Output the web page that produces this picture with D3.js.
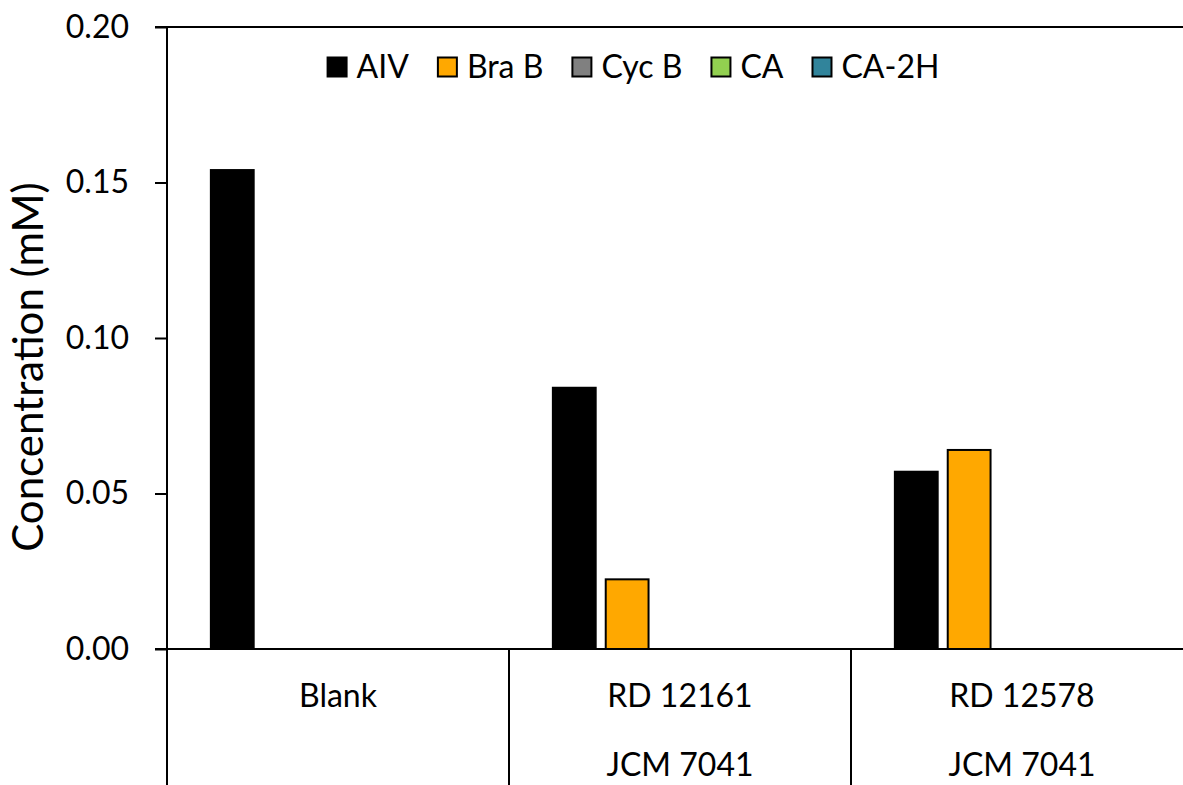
<!DOCTYPE html>
<html>
<head>
<meta charset="utf-8">
<script src="https://cdn.jsdelivr.net/npm/d3@7"></script>
<style>
  html, body { margin: 0; padding: 0; background: #fff; overflow: hidden; }
  svg { display: block; font-family: Lato, "Open Sans", sans-serif; }
</style>
</head>
<body>
<svg id="chart" width="1183" height="785"></svg>
<script>
// Strain treatments along the category axis (two label rows)
const categories = ["Blank", "RD 12161", "RD 12578"];
const subLabels = ["", "JCM 7041", "JCM 7041"];

// Compound series (mM)
const seriesNames = ["AIV", "Bra B", "Cyc B", "CA", "CA-2H"];
const aiv  = [0.154, 0.084, 0.057];
const braB = [0.000, 0.0224, 0.064];
const cycB = [0, 0, 0];
const ca   = [0, 0, 0];
const ca2h = [0, 0, 0];
const seriesColors = ["#000000", "#FFA800", "#808080", "#92D050", "#31849B"];

const yTicks = [0, 0.05, 0.10, 0.15, 0.20];

const seriesValues = [aiv, braB, cycB, ca, ca2h];
const series = seriesNames.map((name, i) => ({
  name, color: seriesColors[i],
  values: categories.map((c, j) => ({ cat: c, v: seriesValues[i][j] }))
}));

const svg = d3.select("#chart");
const W = 1183, H = 785;
const plot = { left: 167, top: 27, bottom: 649, right: 1193 };

const x = d3.scaleBand().domain(categories).range([plot.left, plot.right]).padding(0);
const xs = d3.scaleBand().domain(seriesNames).range([0, x.bandwidth()])
  .paddingInner(0.19).paddingOuter(0.83);
const y = d3.scaleLinear().domain([0, 0.2]).range([plot.bottom, plot.top]);

// Bars
const g = svg.append("g");
series.forEach(s => {
  g.selectAll(null).data(s.values).enter().append("rect")
    .attr("x", d => x(d.cat) + xs(s.name))
    .attr("y", d => y(d.v))
    .attr("width", xs.bandwidth())
    .attr("height", d => y(0) - y(d.v))
    .attr("fill", s.color)
    .attr("stroke", "#000")
    .attr("stroke-width", 2);
});

// Y axis
const yAxis = d3.axisLeft(y).tickValues(yTicks).tickFormat(d3.format(".2f"))
  .tickSizeInner(12).tickSizeOuter(0).tickPadding(26);
const ya = svg.append("g").attr("transform", `translate(${plot.left},0)`).call(yAxis);
ya.select(".domain").remove();
ya.selectAll(".tick line").attr("stroke", "#000").attr("stroke-width", 2);
ya.selectAll(".tick text").attr("font-size", 32).attr("fill", "#000")
  .attr("font-family", "Lato, sans-serif");

// Left axis line running down through the label area
svg.append("line").attr("x1", plot.left).attr("x2", plot.left)
  .attr("y1", plot.top - 1).attr("y2", H)
  .attr("stroke", "#000").attr("stroke-width", 2);

// Top border and category axis line
[plot.top, plot.bottom].forEach(yy => {
  svg.append("line").attr("x1", plot.left - 12).attr("x2", W)
    .attr("y1", yy).attr("y2", yy)
    .attr("stroke", "#000").attr("stroke-width", 2);
});

// Category dividers
categories.slice(1).forEach(c => {
  svg.append("line").attr("x1", x(c)).attr("x2", x(c))
    .attr("y1", plot.bottom).attr("y2", H)
    .attr("stroke", "#000").attr("stroke-width", 2);
});

// Category labels
const lab = svg.append("g").attr("font-size", 32).attr("text-anchor", "middle").attr("fill", "#000");
categories.forEach((c, i) => {
  const cx = x(c) + x.bandwidth() / 2;
  lab.append("text").attr("x", cx).attr("y", 707).text(c);
  if (subLabels[i]) lab.append("text").attr("x", cx).attr("y", 776).text(subLabels[i]);
});

// Y axis title
svg.append("text")
  .attr("transform", `translate(43,367) rotate(-90)`)
  .attr("text-anchor", "middle").attr("font-size", 42).attr("fill", "#000")
  .text("Concentration (mM)");

// Legend laid out in one row, centred over the plot
const legend = svg.append("g").attr("font-size", 32).attr("fill", "#000");
const sw = 19, gapText = 10, gapItem = 29;
let cursor = 0;
series.forEach(s => {
  const it = legend.append("g");
  it.append("rect").attr("x", 0).attr("y", -sw / 2).attr("width", sw).attr("height", sw)
    .attr("fill", s.color).attr("stroke", "#000").attr("stroke-width", 2);
  const t = it.append("text").attr("x", sw + gapText).attr("y", 0).attr("dy", "0.35em").text(s.name);
  const w = sw + gapText + t.node().getComputedTextLength();
  it.attr("transform", `translate(${cursor},0)`);
  cursor += w + gapItem;
});
const legendWidth = cursor - gapItem;
legend.attr("transform", `translate(${633.5 - legendWidth / 2},67)`);
</script>
</body>
</html>
